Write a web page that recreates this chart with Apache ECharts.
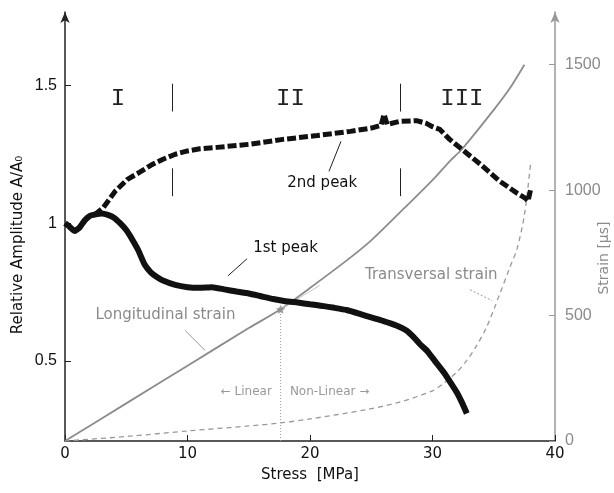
<!DOCTYPE html>
<html>
<head>
<meta charset="utf-8">
<script src="https://cdn.jsdelivr.net/npm/echarts@6/dist/echarts.min.js"></script>
<style>
	html, body { margin: 0; padding: 0; background: #fff; }
	#main { width: 614px; height: 493px; }
</style>
</head>
<body>
<div id="main"></div>
<script>
// 1st peak (relative amplitude, left axis)
var firstStress = [0, 0.3, 0.8, 1.2, 1.6, 2, 2.5, 3, 3.5, 4, 4.5, 5, 5.5, 6, 6.5, 7, 7.5, 8, 9, 10, 11, 12, 13, 14, 15, 16, 17, 18, 19, 20, 21, 22, 23, 24, 25, 26, 27, 27.9, 28.5, 29, 29.6, 30.2, 30.9, 31.5, 32, 32.4, 32.8];
var firstAmp = [1.0, 0.99, 0.972, 0.985, 1.01, 1.026, 1.032, 1.035, 1.03, 1.02, 1.0, 0.975, 0.94, 0.9, 0.85, 0.822, 0.805, 0.792, 0.776, 0.768, 0.766, 0.768, 0.76, 0.752, 0.745, 0.735, 0.725, 0.717, 0.712, 0.706, 0.7, 0.693, 0.685, 0.672, 0.658, 0.645, 0.63, 0.61, 0.585, 0.56, 0.535, 0.5, 0.46, 0.42, 0.385, 0.35, 0.31];

// 2nd peak (relative amplitude, left axis)
var secondStress = [2.4, 3.1, 4.1, 5.1, 6.1, 7, 8, 9, 10, 11, 12.4, 15, 17.8, 20.6, 23.3, 25, 25.8, 26.05, 26.3, 27.3, 28.7, 29.5, 30, 30.6, 31.4, 32.4, 33.9, 35.5, 36.9, 37.6, 37.8, 38];
var secondAmp = [1.03, 1.055, 1.116, 1.159, 1.185, 1.21, 1.232, 1.25, 1.262, 1.27, 1.275, 1.286, 1.304, 1.318, 1.333, 1.345, 1.355, 1.395, 1.358, 1.369, 1.372, 1.362, 1.35, 1.34, 1.304, 1.268, 1.214, 1.152, 1.109, 1.09, 1.08, 1.12];

// longitudinal strain (right axis)
var longStress = [0, 5, 10, 15, 17.6, 20, 23, 25, 27.3, 30, 31.4, 32.4, 35, 36.3, 37.5];
var longStrain = [0, 150, 300, 450, 525, 610, 720, 800, 909, 1040, 1115, 1163, 1320, 1405, 1500];

// transversal strain (right axis)
var transStress = [0, 5, 10, 15, 17.6, 20, 24.6, 27.3, 30, 30.9, 32, 32.8, 33.6, 34.4, 35.5, 36.3, 36.9, 37.5, 38];
var transStrain = [0, 18, 40, 60, 72, 88, 125, 155, 200, 230, 275, 321, 380, 452, 587, 690, 766, 900, 1103];

// linear limit point and linear extension
var limitStress = 17.6;
var limitStrain = 525;
var extStress = [17.6, 20.8];
var extStrain = [525, 620];

// region borders (stress) and tick labels
var regionBorders = [8.75, 27.35];
var regionNames = ["I", "II", "III"];
var regionNameStress = [4.33, 18.4, 32.4];
var xTicks = [0, 10, 20, 30, 40];
var ampTicks = [0.5, 1, 1.5];
var strainTicks = [0, 500, 1000, 1500];

function zip(a, b) {
	var out = [];
	for(var i = 0; i < a.length; i++) {
		out.push([a[i], b[i]]);
	}
	return out;
}

var comic = "'DejaVu Sans', sans-serif";
var gray = "#8a8a8a";

var chart = echarts.init(document.getElementById('main'));

var bordersLines = [];
for(var i = 0; i < regionBorders.length; i++) {
	bordersLines.push([{ coord: [regionBorders[i], 1.405] }, { coord: [regionBorders[i], 1.506] }]);
	bordersLines.push([{ coord: [regionBorders[i], 1.098] }, { coord: [regionBorders[i], 1.199] }]);
}

var option = {
	animation: false,
	grid: {
		left: 65,
		right: 59,
		top: 12,
		bottom: 52
	},
	xAxis: {
		type: 'value',
		min: 0,
		max: 40,
		interval: 10,
		splitLine: { show: false },
		axisLine: { lineStyle: { color: '#222', width: 1.5 } },
		axisTick: { inside: true, length: 6, lineStyle: { color: '#222' } },
		axisLabel: { color: '#111', fontSize: 15, fontFamily: comic, margin: 6 }
	},
	yAxis: [{
		type: 'value',
		position: 'left',
		min: 0.21,
		max: 1.766,
		splitLine: { show: false },
		axisLine: {
			show: true,
			symbol: ['none', 'arrow'],
			symbolSize: [7, 11],
			lineStyle: { color: '#222', width: 1.5 }
		},
		axisTick: { show: true, inside: true, length: 6, customValues: ampTicks, lineStyle: { color: '#222' } },
		axisLabel: { color: '#111', fontSize: 16, fontFamily: "'Liberation Sans', Arial", margin: 8, customValues: ampTicks }
	}, {
		type: 'value',
		position: 'right',
		min: 0,
		max: 1710,
		splitLine: { show: false },
		axisLine: {
			show: true,
			symbol: ['none', 'arrow'],
			symbolSize: [7, 11],
			lineStyle: { color: '#999', width: 1.5 }
		},
		axisTick: { show: true, inside: true, length: 6, customValues: strainTicks, lineStyle: { color: '#999' } },
		axisLabel: {
			color: gray,
			fontSize: 16,
			fontFamily: "'Liberation Sans', Arial",
			margin: 10,
			customValues: strainTicks,
			formatter: function(v) {
				return String(v);
			}
		}
	}],
	series: [{
		name: 'Transversal strain',
		type: 'line',
		yAxisIndex: 1,
		data: zip(transStress, transStrain),
		smooth: 0.3,
		showSymbol: false,
		lineStyle: { color: '#999', width: 1.3, type: [5, 4] }
	}, {
		name: 'Longitudinal strain',
		type: 'line',
		yAxisIndex: 1,
		data: zip(longStress, longStrain),
		smooth: 0.3,
		showSymbol: false,
		lineStyle: { color: '#8c8c8c', width: 1.8 }
	}, {
		name: 'linear extension',
		type: 'line',
		yAxisIndex: 1,
		data: zip(extStress, extStrain),
		showSymbol: false,
		lineStyle: { color: '#c8c8c8', width: 1 }
	}, {
		name: 'limit',
		type: 'line',
		yAxisIndex: 1,
		data: [[limitStress, 0], [limitStress, limitStrain]],
		showSymbol: false,
		lineStyle: { color: '#999', width: 1, type: [1, 2] }
	}, {
		name: '1st peak',
		type: 'line',
		yAxisIndex: 0,
		data: zip(firstStress, firstAmp),
		smooth: 0.15,
		showSymbol: false,
		lineStyle: { color: '#111', width: 6 }
	}, {
		name: '2nd peak',
		type: 'line',
		yAxisIndex: 0,
		data: zip(secondStress, secondAmp),
		showSymbol: false,
		lineStyle: { color: '#111', width: 5, type: [9, 3] },
		markLine: {
			silent: true,
			symbol: ['none', 'none'],
			label: { show: false },
			lineStyle: { color: '#222', width: 1, type: 'solid' },
			data: bordersLines
		}
	}, {
		name: 'limit point',
		type: 'scatter',
		yAxisIndex: 1,
		data: [[limitStress, limitStrain]],
		symbol: 'path://M0,-10 L2.9,-4 L9.5,-3.1 L4.7,1.5 L5.9,8.1 L0,5 L-5.9,8.1 L-4.7,1.5 L-9.5,-3.1 L-2.9,-4 Z',
		symbolSize: 9,
		itemStyle: { color: '#888' },
		z: 5
	}]
};
chart.setOption(option);

// annotations placed from data coordinates
function px(x, y, axis) {
	return chart.convertToPixel({ xAxisIndex: 0, yAxisIndex: axis || 0 }, [x, y]);
}

function text(str, p, size, color, font, extra) {
	var el = {
		type: 'text',
		x: p[0],
		y: p[1],
		style: {
			text: str,
			fill: color,
			fontSize: size,
			fontFamily: font,
			align: 'center',
			verticalAlign: 'middle'
		}
	};
	if(extra) {
		for(var k in extra) el[k] = extra[k];
	}
	return el;
}

function seg(a, b, color, dash) {
	return {
		type: 'line',
		shape: { x1: a[0], y1: a[1], x2: b[0], y2: b[1] },
		style: { stroke: color, lineWidth: 1, lineDash: dash || null }
	};
}

var g = [];
for(var i = 0; i < regionNames.length; i++) {
	g.push(text(regionNames[i], px(regionNameStress[i], 1.452), 24, '#222', "'Liberation Mono', 'DejaVu Sans Mono', monospace"));
}
g.push(text('2nd peak', px(21, 1.145), 15, '#111', comic));
g.push(seg(px(21.55, 1.188), px(22.53, 1.297), '#222'));
g.push(text('1st peak', px(18, 0.91), 15, '#111', comic));
g.push(seg(px(13.3, 0.809), px(14.86, 0.871), '#222'));
g.push(text('Longitudinal strain', px(8.2, 0.665), 15, gray, comic));
g.push(seg(px(9.8, 0.611), px(11.43, 0.539), '#999'));
g.push(text('Transversal strain', px(29.9, 0.81), 15, gray, comic));
g.push(seg(px(33.06, 0.759), px(34.86, 0.719), '#999', [2, 2]));
g.push(text('\u2190 Linear', px(14.8, 0.387), 12, '#999', comic));
g.push(text('Non-Linear \u2192', px(21.6, 0.387), 12, '#999', comic));
g.push(text('Stress  [MPa]', [310, 475], 15, '#111', comic));
g.push(text('Relative Amplitude A/A\u2080', [18, 245], 15, '#111', comic, { rotation: Math.PI / 2 }));
g.push(text('Strain [\u03bcs]', [604, 258], 14, gray, comic, { rotation: Math.PI / 2 }));

chart.setOption({ graphic: g });
</script>
</body>
</html>
